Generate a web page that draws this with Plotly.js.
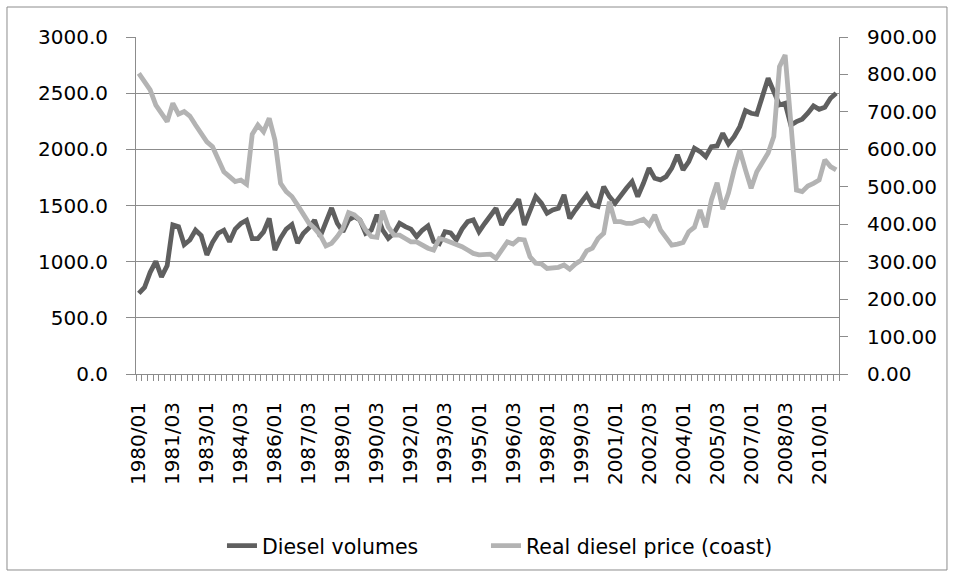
<!DOCTYPE html>
<html>
<head>
<meta charset="utf-8">
<script src="https://cdn.plot.ly/plotly-3.0.1.min.js"></script>
<style>
  html, body { margin: 0; padding: 0; background: #ffffff; }
  #chart { width: 955px; height: 578px; }
</style>
</head>
<body>
<div id="chart"></div>
<script>
// Quarterly categories 1980/01 .. 2010/04
const years = [1980,1981,1982,1983,1984,1985,1986,1987,1988,1989,1990,1991,1992,1993,1994,1995,1996,1997,1998,1999,2000,2001,2002,2003,2004,2005,2006,2007,2008,2009,2010];
const quarters = ['01','02','03','04'];
const categories = [];
years.forEach(y => quarters.forEach(q => categories.push(y + '/' + q)));

// Tick labels shown on the category axis
const tickLabels = ['1980/01','1981/03','1983/01','1984/03','1986/01','1987/03','1989/01','1990/03','1992/01','1993/03','1995/01','1996/03','1998/01','1999/03','2001/01','2002/03','2004/01','2005/03','2007/01','2008/03','2010/01'];

// Diesel volumes (left axis)
const dieselVolumes = [
  718, 770, 905, 1003, 865, 965, 1327, 1312, 1152, 1193, 1280, 1232, 1060, 1172, 1253, 1280, 1178, 1290, 1340, 1368, 1205, 1205, 1265, 1386,
  1104, 1210, 1290, 1330, 1165, 1250, 1300, 1370, 1225, 1340, 1478, 1342, 1267, 1371, 1401, 1371, 1253, 1282, 1416, 1282, 1208, 1253, 1342, 1312,
  1290, 1223, 1280, 1318, 1180, 1160, 1267, 1255, 1193, 1290, 1356, 1371, 1267, 1340, 1400, 1475, 1327, 1420, 1480, 1555, 1327, 1445, 1579, 1520, 1431,
  1460, 1475, 1594, 1386, 1460, 1535, 1594, 1505, 1490, 1668, 1579, 1520, 1594, 1653, 1713, 1579, 1698, 1832, 1742, 1728, 1757, 1832, 1950, 1817, 1890,
  2010, 1980, 1935, 2024, 2030, 2143, 2048, 2113, 2202, 2345, 2321, 2312, 2470, 2633, 2514, 2395, 2410, 2217, 2247, 2268, 2321, 2386, 2356, 2375, 2455, 2499
];

// Real diesel price (coast) (right axis)
const realDieselPrice = [
  803, 781, 759, 718, 696, 674, 723, 694, 701, 689, 665, 643, 620, 607, 576, 540, 527, 514, 518, 507, 640, 665, 647, 683,
  625, 509, 487, 474, 451, 425, 403, 389, 371, 342, 349, 367, 389, 431, 425, 411, 385, 367, 365, 436, 393, 371, 371, 362,
  353, 353, 344, 336, 331, 362, 358, 353, 347, 340, 331, 322, 318, 318, 320, 309, 331, 353, 347, 360, 358, 313, 296, 294, 282,
  282, 285, 291, 280, 294, 304, 329, 336, 362, 376, 460, 407, 407, 402, 402, 407, 413, 398, 425, 385, 362, 344, 347, 351, 380,
  392, 438, 392, 465, 511, 440, 483, 545, 598, 545, 496, 540, 563, 590, 634, 821, 852, 670, 491, 487, 502, 509, 518, 572, 554, 545
];

const xIdx = categories.map((c, i) => i);
const tickVals = tickLabels.map(t => categories.indexOf(t));

const FONT = 'DejaVu Sans, Liberation Sans, sans-serif';
const GRID = '#8c8c8c';

const traces = [
  {
    x: xIdx, y: dieselVolumes, text: categories,
    name: 'Diesel volumes', type: 'scatter', mode: 'lines',
    line: { color: '#5f5f5f', width: 4.8 },
    legendwidth: 219,
    hovertemplate: '%{text}: %{y:.1f}<extra></extra>',
    yaxis: 'y'
  },
  {
    x: xIdx, y: realDieselPrice, text: categories,
    name: 'Real diesel price (coast)', type: 'scatter', mode: 'lines',
    line: { color: '#b3b3b3', width: 4.8 },
    legendwidth: 270,
    hovertemplate: '%{text}: %{y:.2f}<extra></extra>',
    yaxis: 'y2'
  }
];

const layout = {
  width: 955, height: 578,
  margin: { l: 136, r: 116, t: 37, b: 204 },
  paper_bgcolor: '#ffffff', plot_bgcolor: '#ffffff',
  font: { family: FONT, size: 20, color: '#000000' },
  showlegend: true,
  legend: {
    orientation: 'h', x: 0.1223, xanchor: 'left', y: -0.51, yanchor: 'middle',
    font: { family: FONT, size: 20.5, color: '#000000' },
    bgcolor: 'rgba(0,0,0,0)'
  },
  xaxis: {
    range: [-0.5, categories.length - 0.5],
    tickmode: 'array', tickvals: tickVals, ticktext: tickLabels,
    tickangle: -90, ticks: '', ticklabelstandoff: 19,
    tickfont: { family: FONT, size: 20, color: '#000000' },
    showgrid: false, zeroline: false,
    showline: true, linecolor: GRID, linewidth: 1,
    minor: { tickmode: 'linear', tick0: -0.5, dtick: 1, ticks: 'outside', ticklen: 6, tickcolor: GRID, tickwidth: 1, showgrid: false },
    fixedrange: true
  },
  yaxis: {
    range: [0, 3000], tickmode: 'linear', tick0: 0, dtick: 500,
    tickformat: '.1f', ticks: 'outside', ticklen: 9, tickcolor: GRID, tickwidth: 1,
    ticklabelstandoff: 14,
    tickfont: { family: FONT, size: 20, color: '#000000' },
    showgrid: true, gridcolor: GRID, gridwidth: 1,
    zeroline: false, showline: true, linecolor: GRID, linewidth: 1,
    fixedrange: true
  },
  yaxis2: {
    range: [0, 900], tickmode: 'linear', tick0: 0, dtick: 100,
    tickformat: '.2f', ticks: 'outside', ticklen: 8, tickcolor: GRID, tickwidth: 1,
    ticklabelstandoff: 15,
    tickfont: { family: FONT, size: 20, color: '#000000' },
    overlaying: 'y', side: 'right',
    showgrid: false, zeroline: false, showline: true, linecolor: GRID, linewidth: 1,
    fixedrange: true
  },
  shapes: [
    {
      type: 'rect', xref: 'paper', yref: 'paper', layer: 'below',
      x0: -0.1835, x1: 1.1536, y0: -0.5816, y1: 1.089,
      line: { color: '#8c8c8c', width: 1 }, fillcolor: 'rgba(0,0,0,0)'
    }
  ]
};

Plotly.newPlot('chart', traces, layout, { displayModeBar: false, staticPlot: true });
</script>
</body>
</html>
